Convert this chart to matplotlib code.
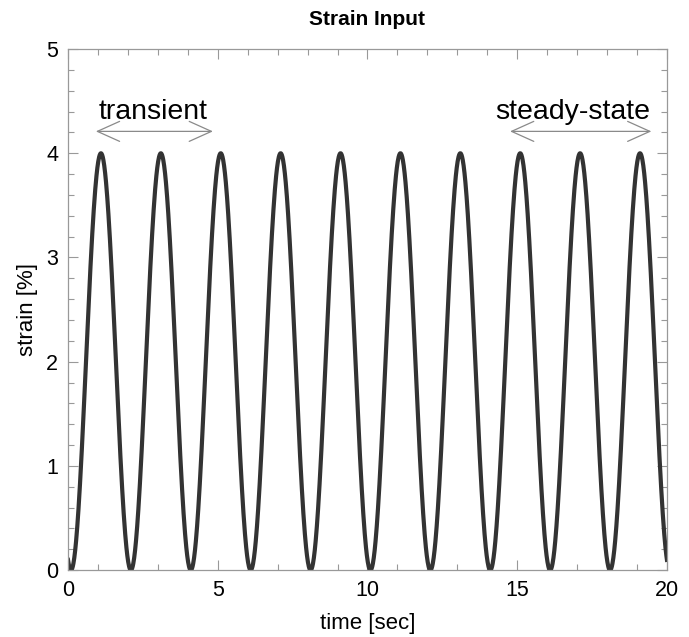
import numpy as np
import matplotlib
matplotlib.use("Agg")
import matplotlib.pyplot as plt
from matplotlib.ticker import MultipleLocator

plt.rcParams['font.family'] = ['Liberation Sans', 'DejaVu Sans']

# Values
peak_strain = 4.0        # %
period = 2.0             # sec
phase = 0.1              # sec (first trough offset)
t_end = 20.0
n_points = 2001

title = "Strain Input"
xlabel = "time [sec]"
ylabel = "strain [%]"
xticks = [0, 5, 10, 15, 20]
yticks = [0, 1, 2, 3, 4, 5]

annotations = ["transient", "steady-state"]
arrow_start = [0.93, 14.76]
arrow_end = [4.84, 19.48]
arrow_y = 4.21
text_x = [1.03, 14.25]
text_y = 4.33

time = np.linspace(0, t_end, n_points)
strain = peak_strain / 2 * (1 - np.cos(2 * np.pi * (time - phase) / period))

fig = plt.figure(figsize=(6.89, 6.37), dpi=100)
ax = fig.add_axes([0.0987, 0.105, 0.8693, 0.818])
ax.plot(time, strain, color='#333333', lw=3.0, solid_joinstyle='round')

ax.set_xlim(0, 20)
ax.set_ylim(0, 5)
ax.set_xticks(xticks)
ax.set_yticks(yticks)
ax.xaxis.set_minor_locator(MultipleLocator(1))
ax.yaxis.set_minor_locator(MultipleLocator(0.2))
ax.tick_params(which='both', direction='in', top=True, right=True,
               color='#999999', labelsize=15.5, labelcolor='black', width=0.8)
ax.tick_params(which='major', length=7, pad=7)
ax.tick_params(which='minor', length=4)
for s in ax.spines.values():
    s.set_color('#999999')
    s.set_linewidth(0.9)

ax.set_title(title, fontsize=15, fontweight='bold', pad=17)
ax.set_xlabel(xlabel, fontsize=16, labelpad=9)
ax.set_ylabel(ylabel, fontsize=16, labelpad=6)

for lab, xs, xe, tx in zip(annotations, arrow_start, arrow_end, text_x):
    ax.annotate('', xy=(xe, arrow_y), xytext=(xs, arrow_y),
                arrowprops=dict(arrowstyle='<->,head_length=1.6,head_width=0.72',
                                mutation_scale=10,
                                color='#8a8a8a', lw=0.9, shrinkA=0, shrinkB=0))
    ax.text(tx, text_y, lab, fontsize=20.5, ha='left', va='baseline')

fig.savefig('out.png', dpi=100)
